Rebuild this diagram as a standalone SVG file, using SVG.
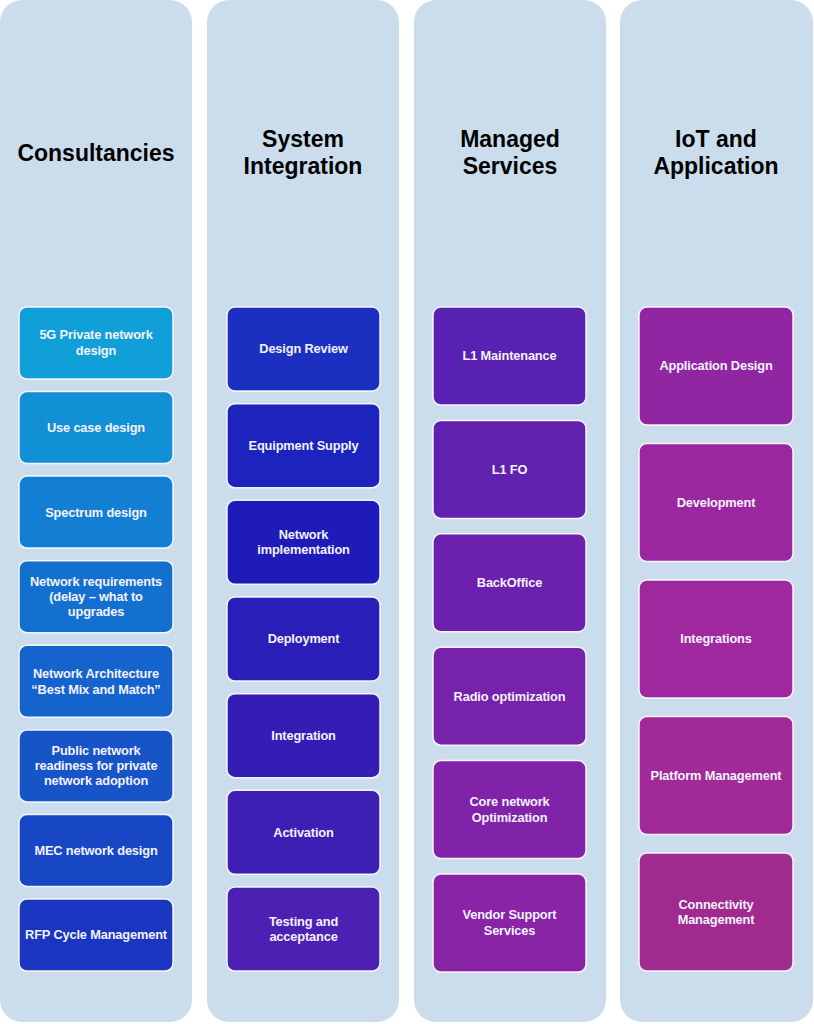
<svg xmlns="http://www.w3.org/2000/svg" width="814" height="1024" viewBox="0 0 814 1024">
<style>
.panel{fill:#cbddec}
.box{stroke:#ffffff;stroke-width:1.5;stroke-opacity:0.9}
.title{font-family:"Liberation Sans",Arial,sans-serif;font-weight:bold;font-size:23px;fill:#000;text-anchor:middle}
.lbl{font-family:"Liberation Sans",Arial,sans-serif;font-weight:bold;font-size:12.8px;fill:#f4f2ff;text-anchor:middle;letter-spacing:-0.15px}
</style>
<rect width="814" height="1024" fill="#ffffff"/>
<g id="panels">
<rect class="panel" x="0" y="0" width="192" height="1022" rx="22"/>
<rect class="panel" x="207" y="0" width="192" height="1022" rx="22"/>
<rect class="panel" x="414" y="0" width="192" height="1022" rx="22"/>
<rect class="panel" x="620" y="0" width="193" height="1022" rx="22"/>
</g>
<g id="titles">
<text class="title" x="96" y="161">Consultancies</text>
<text class="title" x="303" y="147">System</text>
<text class="title" x="303" y="174">Integration</text>
<text class="title" x="510" y="147">Managed</text>
<text class="title" x="510" y="174">Services</text>
<text class="title" x="716" y="147">IoT and</text>
<text class="title" x="716" y="174">Application</text>
</g>
<g id="connectors"></g>
<g id="c1n1"><rect class="box" x="19" y="307" width="154" height="72" rx="8" fill="#10a0d7"/><text class="lbl" x="96" y="339.4">5G Private network</text><text class="lbl" x="96" y="355">design</text></g>
<g id="c1n2"><rect class="box" x="19" y="391.6" width="154" height="72" rx="8" fill="#1290d5"/><text class="lbl" x="96" y="432">Use case design</text></g>
<g id="c1n3"><rect class="box" x="19" y="476.1" width="154" height="72" rx="8" fill="#137fd2"/><text class="lbl" x="96" y="516.5">Spectrum design</text></g>
<g id="c1n4"><rect class="box" x="19" y="560.7" width="154" height="72" rx="8" fill="#1470cf"/><text class="lbl" x="96" y="586">Network requirements</text><text class="lbl" x="96" y="601">(delay – what to</text><text class="lbl" x="96" y="616">upgrades</text></g>
<g id="c1n5"><rect class="box" x="19" y="645.3" width="154" height="72" rx="8" fill="#1563cc"/><text class="lbl" x="96" y="678">Network Architecture</text><text class="lbl" x="96" y="693.5">“Best Mix and Match”</text></g>
<g id="c1n6"><rect class="box" x="19" y="729.9" width="154" height="72" rx="8" fill="#1654c8"/><text class="lbl" x="96" y="755">Public network</text><text class="lbl" x="96" y="770">readiness for private</text><text class="lbl" x="96" y="785">network adoption</text></g>
<g id="c1n7"><rect class="box" x="19" y="814.4" width="154" height="72" rx="8" fill="#1847c5"/><text class="lbl" x="96" y="855">MEC network design</text></g>
<g id="c1n8"><rect class="box" x="19" y="899" width="154" height="72" rx="8" fill="#1a36c1"/><text class="lbl" x="96" y="939.3">RFP Cycle Management</text></g>
<g id="c2n1"><rect class="box" x="227" y="307" width="153" height="84" rx="8" fill="#1b2fc0"/><text class="lbl" x="303.5" y="353.3">Design Review</text></g>
<g id="c2n2"><rect class="box" x="227" y="403.7" width="153" height="84" rx="8" fill="#1c24bd"/><text class="lbl" x="303.5" y="450">Equipment Supply</text></g>
<g id="c2n3"><rect class="box" x="227" y="500.3" width="153" height="84" rx="8" fill="#1e1bb9"/><text class="lbl" x="303.5" y="538.8">Network</text><text class="lbl" x="303.5" y="554.3">implementation</text></g>
<g id="c2n4"><rect class="box" x="227" y="597" width="153" height="84" rx="8" fill="#2a1eb8"/><text class="lbl" x="303.5" y="643.3">Deployment</text></g>
<g id="c2n5"><rect class="box" x="227" y="693.7" width="153" height="84" rx="8" fill="#341db5"/><text class="lbl" x="303.5" y="740">Integration</text></g>
<g id="c2n6"><rect class="box" x="227" y="790.3" width="153" height="84" rx="8" fill="#3e1fb3"/><text class="lbl" x="303.5" y="836.6">Activation</text></g>
<g id="c2n7"><rect class="box" x="227" y="887" width="153" height="84" rx="8" fill="#4c20b2"/><text class="lbl" x="303.5" y="925.5">Testing and</text><text class="lbl" x="303.5" y="941">acceptance</text></g>
<g id="c3n1"><rect class="box" x="433" y="307" width="153" height="98" rx="8" fill="#5821b1"/><text class="lbl" x="509.5" y="360.3">L1 Maintenance</text></g>
<g id="c3n2"><rect class="box" x="433" y="420.4" width="153" height="98" rx="8" fill="#6121af"/><text class="lbl" x="509.5" y="473.7">L1 FO</text></g>
<g id="c3n3"><rect class="box" x="433" y="533.8" width="153" height="98" rx="8" fill="#6b21ad"/><text class="lbl" x="509.5" y="587.1">BackOffice</text></g>
<g id="c3n4"><rect class="box" x="433" y="647.2" width="153" height="98" rx="8" fill="#7622aa"/><text class="lbl" x="509.5" y="700.5">Radio optimization</text></g>
<g id="c3n5"><rect class="box" x="433" y="760.6" width="153" height="98" rx="8" fill="#8023a8"/><text class="lbl" x="509.5" y="806">Core network</text><text class="lbl" x="509.5" y="821.5">Optimization</text></g>
<g id="c3n6"><rect class="box" x="433" y="874" width="153" height="98" rx="8" fill="#8924a6"/><text class="lbl" x="509.5" y="919.3">Vendor Support</text><text class="lbl" x="509.5" y="934.8">Services</text></g>
<g id="c4n1"><rect class="box" x="639" y="307" width="154" height="118" rx="8" fill="#9126a2"/><text class="lbl" x="716" y="370.3">Application Design</text></g>
<g id="c4n2"><rect class="box" x="639" y="443.5" width="154" height="118" rx="8" fill="#9a27a0"/><text class="lbl" x="716" y="506.8">Development</text></g>
<g id="c4n3"><rect class="box" x="639" y="580" width="154" height="118" rx="8" fill="#a0289e"/><text class="lbl" x="716" y="643.3">Integrations</text></g>
<g id="c4n4"><rect class="box" x="639" y="716.5" width="154" height="118" rx="8" fill="#a12998"/><text class="lbl" x="716" y="779.8">Platform Management</text></g>
<g id="c4n5"><rect class="box" x="639" y="853" width="154" height="118" rx="8" fill="#a02a8e"/><text class="lbl" x="716" y="908.5">Connectivity</text><text class="lbl" x="716" y="924">Management</text></g>
</svg>
